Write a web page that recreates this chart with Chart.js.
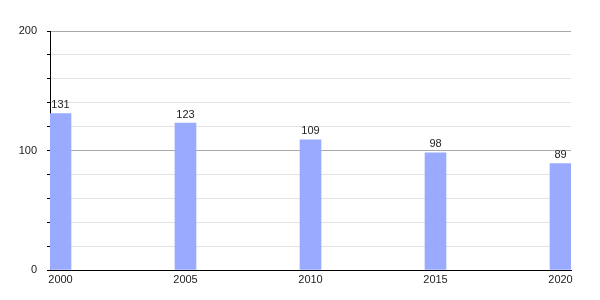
<!DOCTYPE html>
<html>
<head>
<meta charset="utf-8">
<script src="https://cdn.jsdelivr.net/npm/chart.js@4/dist/chart.umd.min.js"></script>
<style>
html,body{margin:0;padding:0;background:#fff;}
#wrap{width:600px;height:300px;}
</style>
</head>
<body>
<div id="wrap"><canvas id="c" width="600" height="300"></canvas></div>
<script>
const years = [2000, 2005, 2010, 2015, 2020];
const values = [131, 123, 109, 98, 89];
const yTickLabels = [0, 100, 200];

const FONT = {family: '"Liberation Sans", Arial, sans-serif', size: 11};

const valueLabels = {
  id: 'valueLabels',
  afterDatasetsDraw(chart) {
    const ctx = chart.ctx;
    const meta = chart.getDatasetMeta(0);
    ctx.save();
    ctx.font = '11px "Liberation Sans", Arial, sans-serif';
    ctx.fillStyle = '#222';
    ctx.textAlign = 'center';
    ctx.textBaseline = 'bottom';
    meta.data.forEach((bar, i) => {
      ctx.fillText(String(values[i]), bar.x, bar.y - 3);
    });
    ctx.restore();
  }
};

new Chart(document.getElementById('c'), {
  type: 'bar',
  data: {
    datasets: [{
      data: years.map((y, i) => ({x: y, y: values[i]})),
      backgroundColor: '#9aabff',
      borderWidth: 0,
      barThickness: 21
    }]
  },
  options: {
    responsive: false,
    animation: false,
    events: [],
    layout: {padding: {top: 31, right: 29, left: 0, bottom: 0}},
    plugins: {legend: {display: false}, tooltip: {enabled: false}},
    scales: {
      x: {
        type: 'linear',
        offset: false,
        bounds: 'data',
        min: 1999.58,
        max: 2020.42,
        afterBuildTicks(scale) { scale.ticks = years.map(v => ({value: v})); },
        afterFit(scale) { scale.height = 30; },
        grid: {display: false, drawTicks: false, offset: false},
        border: {color: '#000', width: 1},
        ticks: {
          color: '#222', font: FONT, padding: 3, maxRotation: 0, autoSkip: false,
          callback: v => String(v)
        }
      },
      y: {
        min: 0, max: 200,
        afterFit(scale) { scale.width = 50; },
        border: {color: '#000', width: 1},
        grid: {
          color: c => (c.tick && (c.tick.value === 100 || c.tick.value === 200)) ? '#aaaaaa' : '#e2e2e2',
          tickColor: '#000',
          tickLength: 3,
          lineWidth: 1
        },
        ticks: {
          stepSize: 20, color: '#222', font: FONT, padding: 10,
          callback: v => yTickLabels.includes(v) ? String(v) : ''
        }
      }
    }
  },
  plugins: [valueLabels]
});
</script>
</body>
</html>
